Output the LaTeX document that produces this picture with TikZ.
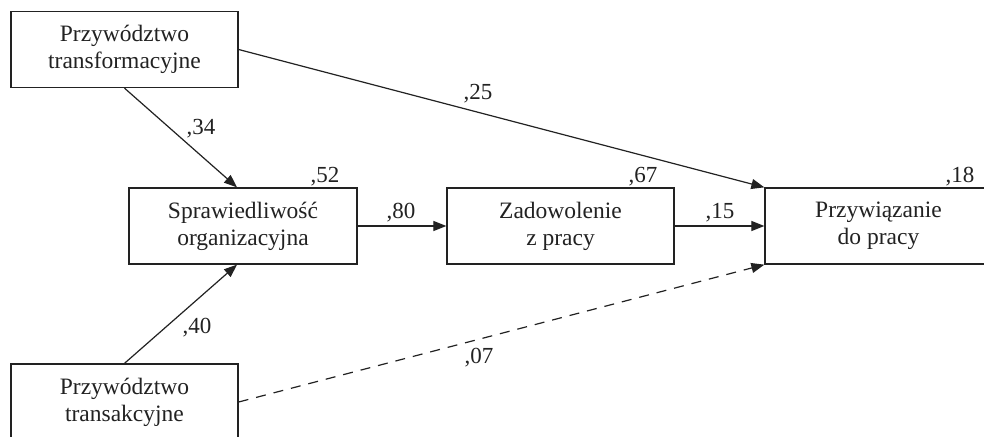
\documentclass[tikz,border=0pt]{standalone}
\usepackage{fontspec}
\setmainfont{Liberation Serif}
\usetikzlibrary{arrows.meta}
\definecolor{ink}{HTML}{222222}
\tikzset{
  boxnode/.style={draw=ink, line width=1.3pt, minimum width=227pt, minimum height=76pt,
    align=center, inner sep=0pt, text=ink, font=\fontsize{23.5}{27}\selectfont},
  coef/.style={anchor=base, inner sep=0pt, text=ink, font=\fontsize{23}{27}\selectfont},
  link/.style={draw=ink, line width=1.2pt, -{Triangle[length=13pt,width=10pt]}},
  dlink/.style={link, dash pattern=on 10pt off 8pt}
}
\begin{document}
\begin{tikzpicture}[x=1pt,y=-1pt]
\useasboundingbox (0,0) rectangle (984,436);
\clip (0,0) rectangle (984,436);
\fill[white] (0,0) rectangle (984,436);
\node[boxnode] (tf) at (124.5,49.5) {Przywództwo\\transformacyjne};
\node[boxnode] (ta) at (124.5,402) {Przywództwo\\transakcyjne};
\node[boxnode, minimum width=228pt] (so) at (243,226) {Sprawiedliwość\\organizacyjna};
\node[boxnode] (zp) at (560.5,226) {Zadowolenie\\z pracy};
\node[boxnode] (pp) at (878.5,226) {Przywiązanie\\do pracy};

\draw[link] (tf.south) -- ([xshift=-6pt]so.north);
\draw[link] (ta.north) -- ([xshift=-6pt]so.south);
\draw[link] (so.east) -- (zp.west);
\draw[link] (zp.east) -- (pp.west);
\draw[link] (tf.east) -- (pp.north west);
\draw[dlink] (ta.east) -- (pp.south west);

\node[coef] (c34) at (201,134) {,34};
\node[coef] (c40) at (197,333) {,40};
\node[coef] (c52) at (325,182) {,52};
\node[coef] (c80) at (401,218) {,80};
\node[coef] (c67) at (643,182) {,67};
\node[coef] (c15) at (720,218) {,15};
\node[coef] (c18) at (960,182) {,18};
\node[coef] (c25) at (478,99) {,25};
\node[coef] (c07) at (479,363) {,07};
\end{tikzpicture}
\end{document}
